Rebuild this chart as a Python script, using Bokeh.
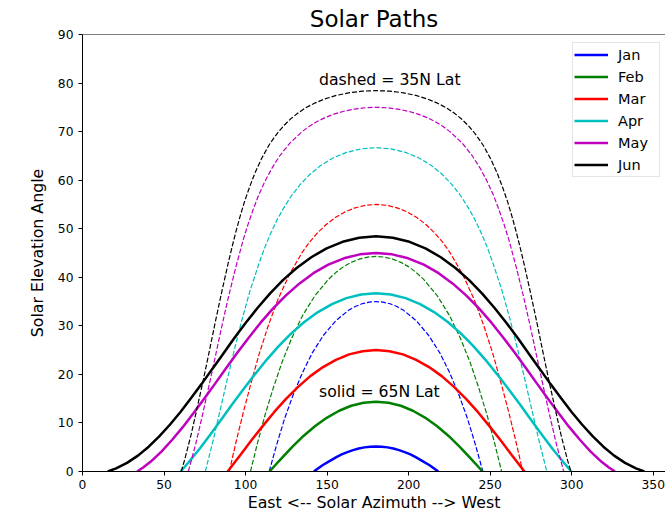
from bokeh.plotting import figure
from bokeh.models import Range1d, Span, Legend, LegendItem, FixedTicker, Label
from bokeh.embed import file_html
from bokeh.resources import INLINE

months = ["Jan", "Feb", "Mar", "Apr", "May", "Jun"]
colors = ["#0000ff", "#008000", "#ff0000", "#00bfbf", "#bf00bf", "#000000"]
x_ticks = [0, 50, 100, 150, 200, 250, 300, 350]
y_ticks = [0, 10, 20, 30, 40, 50, 60, 70, 80, 90]

# 65N latitude (solid lines): solar azimuth / elevation
az65_jan = [141.8, 144.6, 147.4, 152.0, 155.4, 158.9, 162.4, 165.9, 169.4, 172.9, 176.5, 180, 183.5, 187.1, 190.6, 194.1, 197.6, 201.1, 204.6, 208.0, 212.6, 215.4, 218.2]
el65_jan = [0, 0.67, 1.33, 2.25, 2.92, 3.51, 3.98, 4.41, 4.73, 4.97, 5.11, 5.16, 5.11, 4.97, 4.73, 4.41, 3.98, 3.51, 2.92, 2.25, 1.33, 0.67, 0]
az65_feb = [114.7, 118.0, 121.6, 128.5, 135.5, 142.7, 150.0, 157.4, 164.8, 172.4, 180, 187.6, 195.2, 202.6, 210.0, 217.3, 224.5, 231.5, 238.4, 242.0, 245.3]
el65_feb = [0, 1.24, 2.54, 5.02, 7.32, 9.37, 11.11, 12.51, 13.54, 14.15, 14.36, 14.15, 13.54, 12.51, 11.11, 9.37, 7.32, 5.02, 2.54, 1.24, 0]
az65_mar = [89.0, 96.8, 103.6, 110.6, 117.6, 124.8, 132.2, 139.7, 147.5, 155.4, 163.5, 171.7, 180, 188.3, 196.5, 204.6, 212.5, 220.3, 227.8, 235.2, 242.4, 249.4, 256.4, 263.2, 271.0]
el65_mar = [0, 3.39, 6.42, 9.4, 12.27, 14.97, 17.44, 19.64, 21.5, 22.98, 24.12, 24.77, 25.0, 24.77, 24.12, 22.98, 21.5, 19.64, 17.44, 14.97, 12.27, 9.4, 6.42, 3.39, 0]
az65_apr = [60.2, 64.8, 71.6, 78.3, 85.0, 91.8, 98.7, 105.7, 112.9, 120.3, 128.0, 136.0, 144.4, 153.0, 161.8, 170.9, 180, 189.1, 198.2, 207.0, 215.6, 224.0, 232.0, 239.7, 247.1, 254.3, 261.3, 268.2, 275.0, 281.7, 288.4, 295.2, 299.8]
el65_apr = [0, 1.81, 4.58, 7.58, 10.67, 13.83, 16.93, 20.01, 23.0, 25.83, 28.45, 30.8, 32.83, 34.48, 35.7, 36.45, 36.7, 36.45, 35.7, 34.48, 32.83, 30.8, 28.45, 25.83, 23.0, 20.01, 16.93, 13.83, 10.67, 7.58, 4.58, 1.81, 0]
az65_may = [33.5, 37.2, 41.7, 48.4, 55.0, 61.6, 68.1, 74.7, 81.3, 87.9, 94.8, 101.8, 109.1, 116.6, 124.6, 132.9, 141.6, 150.7, 160.3, 170.1, 180, 189.9, 199.7, 209.3, 218.4, 227.1, 235.4, 243.4, 250.9, 258.2, 265.2, 272.1, 278.7, 285.3, 291.9, 298.4, 305.0, 311.6, 318.3, 322.8, 326.5]
el65_may = [0, 0.83, 2.0, 4.11, 6.54, 9.18, 12.04, 15.02, 18.1, 21.21, 24.4, 27.51, 30.6, 33.49, 36.21, 38.69, 40.84, 42.6, 43.91, 44.72, 45.0, 44.72, 43.91, 42.6, 40.84, 38.69, 36.21, 33.49, 30.6, 27.51, 24.4, 21.21, 18.1, 15.02, 12.04, 9.18, 6.54, 4.11, 2.0, 0.83, 0]
az65_jun = [15.5, 20.6, 27.3, 34.0, 40.6, 47.2, 53.7, 60.2, 66.6, 73.1, 79.6, 86.3, 93.0, 100.0, 107.3, 114.9, 122.9, 131.3, 140.3, 149.7, 159.5, 169.7, 180, 190.3, 200.5, 210.3, 219.7, 228.7, 237.1, 245.1, 252.7, 260.0, 267.0, 273.7, 280.4, 286.9, 293.4, 299.8, 306.3, 312.8, 319.4, 326.0, 332.7, 339.4, 344.5]
el65_jun = [0, 0.63, 1.78, 3.27, 5.11, 7.27, 9.68, 12.32, 15.14, 18.05, 21.13, 24.27, 27.44, 30.59, 33.67, 36.62, 39.4, 41.92, 44.13, 45.95, 47.31, 48.15, 48.44, 48.15, 47.31, 45.95, 44.13, 41.92, 39.4, 36.62, 33.67, 30.59, 27.44, 24.27, 21.13, 18.05, 15.14, 12.32, 9.68, 7.27, 5.11, 3.27, 1.78, 0.63, 0]

# 35N latitude (dashed lines)
az35_jan = [114.5, 119.3, 124.0, 129.2, 134.9, 141.0, 147.8, 155.2, 163.1, 167.2, 171.4, 175.7, 180, 184.3, 188.6, 192.8, 196.9, 204.8, 212.2, 219.0, 225.1, 230.8, 236.0, 240.7, 245.5]
el35_jan = [0, 5.8, 10.96, 15.81, 20.37, 24.49, 28.06, 31.0, 33.19, 33.97, 34.54, 34.88, 35.0, 34.88, 34.54, 33.97, 33.19, 31.0, 28.06, 24.49, 20.37, 15.81, 10.96, 5.8, 0]
az35_feb = [103.0, 107.4, 112.0, 117.0, 122.4, 128.4, 135.0, 142.5, 150.8, 155.3, 159.9, 164.8, 169.8, 174.9, 180, 185.1, 190.2, 195.2, 200.1, 204.7, 209.2, 217.5, 225.0, 231.6, 237.6, 243.0, 248.0, 252.6, 257.0]
el35_feb = [0, 5.99, 11.71, 17.22, 22.55, 27.56, 32.15, 36.2, 39.58, 40.97, 42.14, 43.08, 43.75, 44.16, 44.3, 44.16, 43.75, 43.08, 42.14, 40.97, 39.58, 36.2, 32.15, 27.56, 22.55, 17.22, 11.71, 5.99, 0]
az35_mar = [90.0, 94.3, 98.7, 103.4, 108.3, 113.8, 119.8, 126.8, 134.8, 139.3, 144.2, 149.4, 155.0, 160.9, 167.1, 173.5, 180, 186.5, 192.9, 199.1, 205.0, 210.6, 215.8, 220.7, 225.2, 233.2, 240.2, 246.2, 251.7, 256.6, 261.3, 265.7, 270.0]
el35_mar = [0, 6.28, 12.31, 18.27, 24.18, 29.91, 35.4, 40.53, 45.19, 47.28, 49.18, 50.87, 52.3, 53.46, 54.3, 54.83, 55.0, 54.83, 54.3, 53.46, 52.3, 50.87, 49.18, 47.28, 45.19, 40.53, 35.4, 29.91, 24.18, 18.27, 12.31, 6.28, 0]
az35_apr = [75.3, 80.4, 84.5, 88.7, 93.1, 97.7, 102.7, 108.5, 111.6, 115.1, 118.9, 123.2, 127.9, 133.3, 139.3, 146.0, 153.6, 161.9, 170.8, 180, 189.2, 198.1, 206.4, 214.0, 220.7, 226.7, 232.1, 236.8, 241.1, 244.9, 248.4, 251.5, 257.3, 262.3, 266.9, 271.3, 275.5, 279.6, 284.7]
el35_apr = [0, 6.81, 12.77, 18.9, 25.04, 31.16, 37.2, 43.12, 46.0, 48.82, 51.56, 54.19, 56.69, 59.04, 61.15, 63.0, 64.57, 65.72, 66.45, 66.7, 66.45, 65.72, 64.57, 63.0, 61.15, 59.04, 56.69, 54.19, 51.56, 48.82, 46.0, 43.12, 37.2, 31.16, 25.04, 18.9, 12.77, 6.81, 0]
az35_may = [64.9, 69.4, 73.4, 77.3, 81.2, 85.1, 89.2, 93.7, 98.6, 101.4, 104.5, 107.8, 111.7, 116.1, 121.2, 127.3, 134.7, 138.9, 143.6, 148.7, 154.2, 160.2, 166.6, 173.2, 180, 186.8, 193.4, 199.8, 205.8, 211.3, 216.4, 221.1, 225.3, 232.7, 238.8, 243.9, 248.3, 252.2, 255.5, 258.6, 261.4, 266.3, 270.8, 274.9, 278.8, 282.7, 286.6, 290.6, 295.1]
el35_may = [0, 5.64, 11.39, 17.26, 23.29, 29.39, 35.52, 41.67, 47.77, 50.79, 53.79, 56.74, 59.63, 62.44, 65.13, 67.68, 70.0, 71.06, 72.03, 72.88, 73.6, 74.19, 74.64, 74.91, 75.0, 74.91, 74.64, 74.19, 73.6, 72.88, 72.03, 71.06, 70.0, 67.68, 65.13, 62.44, 59.63, 56.74, 53.79, 50.79, 47.77, 41.67, 35.52, 29.39, 23.29, 17.26, 11.39, 5.64, 0]
az35_jun = [60.5, 62.5, 66.6, 70.4, 74.2, 77.9, 81.6, 85.5, 89.6, 91.8, 94.1, 96.6, 99.3, 102.4, 105.8, 109.8, 114.5, 117.3, 120.3, 123.7, 127.5, 131.9, 136.7, 142.3, 148.6, 155.6, 163.2, 171.5, 180, 188.5, 196.8, 204.4, 211.4, 217.7, 223.3, 228.1, 232.5, 236.3, 239.7, 242.7, 245.5, 250.2, 254.2, 257.6, 260.7, 263.4, 265.9, 268.2, 270.4, 274.5, 278.4, 282.1, 285.8, 289.6, 293.4, 297.5, 299.5]
el35_jun = [0, 2.23, 7.59, 13.26, 19.04, 25.0, 31.05, 37.15, 43.29, 46.36, 49.43, 52.48, 55.53, 58.54, 61.52, 64.45, 67.3, 68.67, 70.02, 71.32, 72.58, 73.77, 74.88, 75.86, 76.73, 77.45, 77.99, 78.33, 78.44, 78.33, 77.99, 77.45, 76.73, 75.86, 74.88, 73.77, 72.58, 71.32, 70.02, 68.67, 67.3, 64.45, 61.52, 58.54, 55.53, 52.48, 49.43, 46.36, 43.29, 37.15, 31.05, 25.0, 19.04, 13.26, 7.59, 2.23, 0]

solid_az = [az65_jan, az65_feb, az65_mar, az65_apr, az65_may, az65_jun]
solid_el = [el65_jan, el65_feb, el65_mar, el65_apr, el65_may, el65_jun]
dash_az = [az35_jan, az35_feb, az35_mar, az35_apr, az35_may, az35_jun]
dash_el = [el35_jan, el35_feb, el35_mar, el35_apr, el35_may, el35_jun]

FONT = "DejaVu Sans"

p = figure(width=665, height=514, output_backend="svg", toolbar_location=None,
           x_range=Range1d(0, 357.5), y_range=Range1d(0, 90),
           min_border_left=82, min_border_right=0, min_border_top=34, min_border_bottom=43,
           title="Solar Paths")
p.title.text_font = FONT
p.title.text_font_size = "23px"
p.title.text_font_style = "normal"
p.title.text_color = "#000000"
p.title.align = "center"
p.title.standoff = 5

p.outline_line_color = None
p.xgrid.visible = False
p.ygrid.visible = False
p.background_fill_color = "white"
p.border_fill_color = "white"

p.xaxis.ticker = FixedTicker(ticks=x_ticks)
p.yaxis.ticker = FixedTicker(ticks=y_ticks)
p.xaxis.axis_label = "East <-- Solar Azimuth --> West"
p.yaxis.axis_label = "Solar Elevation Angle"
for ax in (p.xaxis[0], p.yaxis[0]):
    ax.axis_label_text_font = FONT
    ax.axis_label_text_font_size = "15.8px"
    ax.axis_label_text_font_style = "normal"
    ax.axis_label_text_color = "#000000"
    ax.major_label_text_font = FONT
    ax.major_label_text_font_size = "12.3px"
    ax.major_label_text_color = "#000000"
    ax.major_tick_in = 0
    ax.major_tick_out = 4
    ax.minor_tick_line_color = None
    ax.axis_line_color = "#000000"
    ax.major_tick_line_color = "#000000"
p.yaxis[0].major_label_standoff = 5
p.yaxis[0].axis_label_standoff = 8
p.xaxis[0].major_label_standoff = 4
p.xaxis[0].axis_label_standoff = 1

p.add_layout(Span(location=90, dimension="width", line_color="#000000", line_width=1))

items = []
for i, m in enumerate(months):
    r = p.line(solid_az[i], solid_el[i], line_color=colors[i], line_width=2.5)
    p.line(dash_az[i], dash_el[i], line_color=colors[i], line_width=1.2, line_dash="5 2")
    items.append(LegendItem(label=m, renderers=[r]))

legend = Legend(items=items, location=(490, 294))
legend.label_text_font = FONT
legend.label_text_font_size = "14.5px"
legend.label_text_color = "#000000"
legend.glyph_width = 34
legend.glyph_height = 21
legend.label_height = 21
legend.label_width = 40
legend.label_standoff = 10
legend.spacing = 1
legend.padding = 1
legend.margin = 0
legend.border_line_color = "#cccccc"
legend.border_line_width = 1
legend.background_fill_color = "white"
legend.background_fill_alpha = 0.8
p.add_layout(legend)

p.add_layout(Label(x=145, y=79.7, y_offset=5, text="dashed = 35N Lat", text_font=FONT,
                   text_font_size="15.7px", text_baseline="alphabetic", text_color="#000000"))
p.add_layout(Label(x=145, y=15.5, y_offset=5, text="solid = 65N Lat", text_font=FONT,
                   text_font_size="15.7px", text_baseline="alphabetic", text_color="#000000"))

open("out.html", "w").write(file_html(p, INLINE))
